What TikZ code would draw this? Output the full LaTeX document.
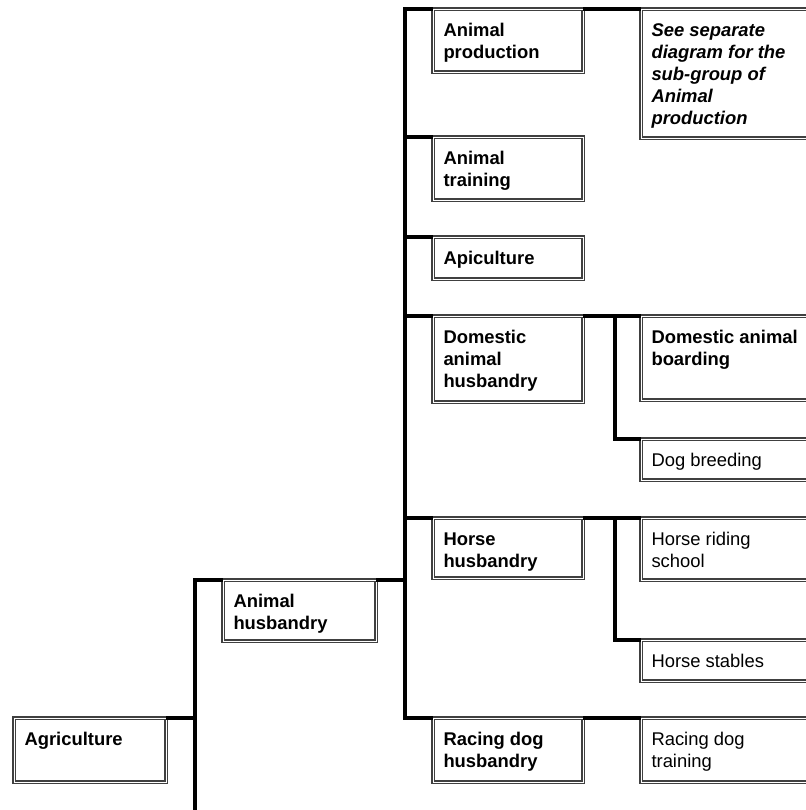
\documentclass[tikz,border=0pt]{standalone}
\usepackage{fontspec}
\setmainfont{Liberation Sans}

\tikzset{every picture/.style={line width=0.75pt}}
\tikzset{
  box/.style={draw=black!75, double=white, double distance=0.7pt, line width=1.1pt,
    fill=white, anchor=north west, inner sep=0pt, outer sep=0pt},
  boxsize/.style 2 args={minimum width=#1*0.75pt, minimum height=#2*0.75pt},
  link/.style={line width=2.3pt, black},
  lbl/.style={anchor=north west, inner sep=0pt, align=left,
    font=\fontsize{13.8}{16.5}\selectfont\bfseries},
  lbln/.style={lbl, font=\fontsize{13.8}{16.5}\selectfont},
  lbli/.style={lbl, font=\fontsize{13.8}{16.5}\selectfont\bfseries\itshape},
}

\begin{document}
\begin{tikzpicture}[x=0.75pt,y=0.75pt,yscale=-1,xscale=1]
\useasboundingbox (0,0) rectangle (806,810);
\clip (0,0) rectangle (806,810);

% spines
\coordinate (sp1end) at (195,814);
\coordinate (sp2) at (405,0);
\coordinate (sp3) at (615,0);

% Boxes
\node[box, boxsize={152}{64}] (agr) at (14,718) {};
\node[box, boxsize={153}{61}] (ah) at (223,580) {};
\node[box, boxsize={150}{63}] (ap) at (433,9) {};
\node[box, boxsize={185}{129}] (sep) at (641,9) {};
\node[box, boxsize={150}{63}] (at) at (433,137) {};
\node[box, boxsize={150}{42}] (api) at (433,237) {};
\node[box, boxsize={150}{86}] (dah) at (433,316) {};
\node[box, boxsize={185}{84}] (dab) at (641,316) {};
\node[box, boxsize={185}{41}] (dog) at (641,439) {};
\node[box, boxsize={150}{60}] (hh) at (433,518) {};
\node[box, boxsize={185}{62}] (hrs) at (641,518) {};
\node[box, boxsize={185}{41}] (hs) at (641,640) {};
\node[box, boxsize={150}{64}] (rdh) at (433,718) {};
\node[box, boxsize={185}{64}] (rdt) at (641,718) {};

% Connectors
\draw[link] (agr.north east) -- (agr.north east -| sp1end);
\draw[link] (ah.north west) -| (sp1end);
\draw[link] (ah.north east) -- (sp2 |- ah.north east);
\draw[link] (ap.north west) -| (sp2 |- rdh.north west) -- (rdh.north west);
\draw[link] (sp2 |- at.north west) -- (at.north west);
\draw[link] (sp2 |- api.north west) -- (api.north west);
\draw[link] (sp2 |- dah.north west) -- (dah.north west);
\draw[link] (sp2 |- hh.north west) -- (hh.north west);
\draw[link] (ap.north east) -- (sep.north west);
\draw[link] (dah.north east) -- (dab.north west);
\draw[link] (sp3 |- dah.north east) |- (dog.north west);
\draw[link] (hh.north east) -- (hrs.north west);
\draw[link] (sp3 |- hh.north east) |- (hs.north west);
\draw[link] (rdh.north east) -- (rdt.north west);

% Text Nodes
\node[lbl] (agr-t) at ([shift={(10,14)}]agr.north west) {Agriculture};
\node[lbl] (ah-t) at ([shift={(10,14)}]ah.north west) {Animal\\husbandry};
\node[lbl] (ap-t) at ([shift={(10,14)}]ap.north west) {Animal\\production};
\node[lbli] (sep-t) at ([shift={(10,14)}]sep.north west) {See separate\\diagram for the\\sub-group of\\Animal\\production};
\node[lbl] (at-t) at ([shift={(10,14)}]at.north west) {Animal\\training};
\node[lbl] (api-t) at ([shift={(10,14)}]api.north west) {Apiculture};
\node[lbl] (dah-t) at ([shift={(10,14)}]dah.north west) {Domestic\\animal\\husbandry};
\node[lbl] (dab-t) at ([shift={(10,14)}]dab.north west) {Domestic animal\\boarding};
\node[lbln] (dog-t) at ([shift={(10,14)}]dog.north west) {Dog breeding};
\node[lbl] (hh-t) at ([shift={(10,14)}]hh.north west) {Horse\\husbandry};
\node[lbln] (hrs-t) at ([shift={(10,14)}]hrs.north west) {Horse riding\\school};
\node[lbln] (hs-t) at ([shift={(10,14)}]hs.north west) {Horse stables};
\node[lbl] (rdh-t) at ([shift={(10,14)}]rdh.north west) {Racing dog\\husbandry};
\node[lbln] (rdt-t) at ([shift={(10,14)}]rdt.north west) {Racing dog\\training};

\end{tikzpicture}
\end{document}
